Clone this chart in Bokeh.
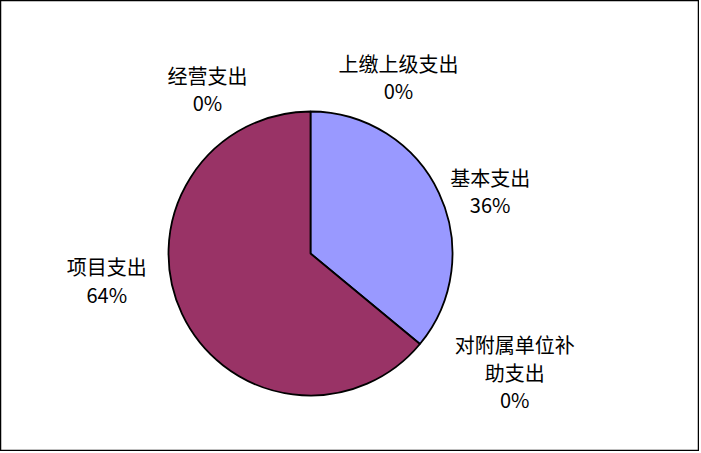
import math
from bokeh.plotting import figure
from bokeh.models import Range1d, ColumnDataSource
from bokeh.core.properties import value
from bokeh.embed import file_html
from bokeh.resources import INLINE

# ---- data ----
categories = ["上缴上级支出", "基本支出", "对附属单位补助支出", "项目支出", "经营支出"]
label_texts = ["上缴上级支出", "基本支出", "对附属单位补\n助支出", "项目支出", "经营支出"]
shares = [0, 36, 0, 64, 0]
colors = ["#CCFFFF", "#9999FF", "#FFFFCC", "#993366", "#FF8080"]

# ---- layout / style ----
W, H = 699, 451
CX, CY = 310, H - 253
R = 142
LABEL_R = R + 40
nudges = [(88, -5.5), (15, -15), (64, -2.5), (-39, 50.5), (-103, -17.5)]
FONT = "Noto Sans CJK SC"

p = figure(width=W, height=H, output_backend="svg", toolbar_location=None,
           x_range=Range1d(0, W), y_range=Range1d(0, H),
           min_border=0, background_fill_color="white", border_fill_color="white")
p.axis.visible = False
p.grid.visible = False
p.outline_line_color = "black"
p.outline_line_width = 1.5

total = float(sum(shares))
starts, ends, mids = [], [], []
cum = 0.0
for v in shares:
    a0 = math.pi / 2 - 2 * math.pi * cum / total
    cum += v
    a1 = math.pi / 2 - 2 * math.pi * cum / total
    starts.append(a0)
    ends.append(a1)
    mids.append((a0 + a1) / 2)

ws = ColumnDataSource(dict(
    x=[CX for v in shares if v > 0],
    y=[CY for v in shares if v > 0],
    start=[s for s, v in zip(starts, shares) if v > 0],
    end=[e for e, v in zip(ends, shares) if v > 0],
    color=[c for c, v in zip(colors, shares) if v > 0],
))
p.wedge(x="x", y="y", radius=R, radius_units="screen",
        start_angle="end", end_angle="start", direction="anticlock",
        fill_color="color", line_color="black", line_width=1.8, source=ws)

lx, ly, lt = [], [], []
for m, v, t, (dx, dy) in zip(mids, shares, label_texts, nudges):
    lx.append(CX + LABEL_R * math.cos(m) + dx)
    ly.append(CY + LABEL_R * math.sin(m) + dy)
    lt.append(f"{t}\n{round(100 * v / total)}%")

ls = ColumnDataSource(dict(x=lx, y=ly, text=lt))
p.text(x="x", y="y", text="text", source=ls, text_align="center",
       text_baseline="middle", text_font=value(FONT), text_font_size="20px",
       text_color="black", text_line_height=0.95)

open("out.html", "w").write(file_html(p, INLINE))
